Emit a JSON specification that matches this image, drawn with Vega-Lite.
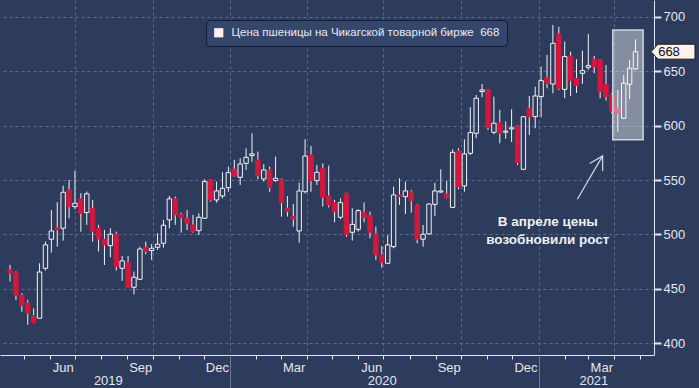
{
  "$schema": "https://vega.github.io/schema/vega-lite/v6.json",
  "width": 654,
  "height": 355,
  "autosize": "none",
  "padding": {"left": 0, "top": 0, "right": 45, "bottom": 33},
  "background": "#2d3b5c",
  "config": {"view": {"stroke": null}, "font": "Liberation Sans"},
  "datasets": {
    "candles": [
      {"d":"2019-04-15","o":467.4,"h":472,"l":456.7,"c":464.3},
      {"d":"2019-04-22","o":464.9,"h":466,"l":439.8,"c":444.2},
      {"d":"2019-04-29","o":444.2,"h":446,"l":429,"c":434.6},
      {"d":"2019-05-06","o":437,"h":440,"l":417,"c":427.6},
      {"d":"2019-05-13","o":425.4,"h":432,"l":418.4,"c":419},
      {"d":"2019-05-20","o":423,"h":473.5,"l":423,"c":465.5},
      {"d":"2019-05-27","o":468.9,"h":493.4,"l":466.8,"c":490.4},
      {"d":"2019-06-03","o":495.6,"h":522.5,"l":483.3,"c":503.2},
      {"d":"2019-06-10","o":506,"h":529.6,"l":488.8,"c":504.2},
      {"d":"2019-06-17","o":505.7,"h":544.9,"l":494.4,"c":538.8},
      {"d":"2019-06-24","o":540.9,"h":550.1,"l":514.9,"c":525.6},
      {"d":"2019-07-01","o":525.6,"h":558.4,"l":523.2,"c":528.7},
      {"d":"2019-07-08","o":532.7,"h":537.9,"l":502.6,"c":519.5},
      {"d":"2019-07-15","o":520.1,"h":539.4,"l":508.8,"c":537.3},
      {"d":"2019-07-22","o":524.1,"h":531.7,"l":493.4,"c":502.6},
      {"d":"2019-07-29","o":505.7,"h":508.8,"l":484.3,"c":495.9},
      {"d":"2019-08-05","o":495.6,"h":504.2,"l":472,"c":490.4},
      {"d":"2019-08-12","o":489.8,"h":505.7,"l":479,"c":500.2},
      {"d":"2019-08-19","o":500.2,"h":502.6,"l":466.8,"c":470.5},
      {"d":"2019-08-26","o":468.9,"h":480.3,"l":457.3,"c":475.7},
      {"d":"2019-09-02","o":474.4,"h":480.3,"l":451,"c":451.2},
      {"d":"2019-09-09","o":451.5,"h":465.9,"l":445,"c":460.7},
      {"d":"2019-09-16","o":458.8,"h":488.8,"l":458.5,"c":486.7},
      {"d":"2019-09-23","o":488.2,"h":493.4,"l":481.8,"c":484.3},
      {"d":"2019-09-30","o":485.2,"h":491.3,"l":476.6,"c":487.3},
      {"d":"2019-10-07","o":488.2,"h":501.1,"l":485.8,"c":491},
      {"d":"2019-10-14","o":491.9,"h":513.4,"l":487.9,"c":508.5},
      {"d":"2019-10-21","o":513.4,"h":535.4,"l":505.7,"c":532.7},
      {"d":"2019-10-28","o":532.7,"h":534.8,"l":508.8,"c":518},
      {"d":"2019-11-04","o":518.5,"h":520.1,"l":501.7,"c":515.5},
      {"d":"2019-11-11","o":514.9,"h":522.5,"l":504.1,"c":510.3},
      {"d":"2019-11-18","o":508.7,"h":518,"l":501.7,"c":502.6},
      {"d":"2019-11-25","o":503.5,"h":519.5,"l":499.5,"c":515.8},
      {"d":"2019-12-02","o":514.9,"h":550.7,"l":514.5,"c":548.6},
      {"d":"2019-12-09","o":550.1,"h":550.7,"l":530.1,"c":531.7},
      {"d":"2019-12-16","o":531.7,"h":548.6,"l":529.2,"c":540},
      {"d":"2019-12-23","o":535.4,"h":557.2,"l":533.2,"c":542.4},
      {"d":"2019-12-30","o":543,"h":562.4,"l":539.3,"c":556.8},
      {"d":"2020-01-06","o":559.9,"h":568.5,"l":553.2,"c":553.8},
      {"d":"2020-01-13","o":552.5,"h":570,"l":545.5,"c":564.8},
      {"d":"2020-01-20","o":565.4,"h":579.2,"l":559.3,"c":570.9},
      {"d":"2020-01-27","o":572.5,"h":593,"l":566.9,"c":574.1},
      {"d":"2020-02-03","o":568.5,"h":576.2,"l":550.7,"c":554.1},
      {"d":"2020-02-10","o":551,"h":564.5,"l":548.6,"c":559.3},
      {"d":"2020-02-17","o":559.3,"h":562.4,"l":539.3,"c":543},
      {"d":"2020-02-24","o":549.5,"h":571.5,"l":548.6,"c":551.6},
      {"d":"2020-03-02","o":550.7,"h":551.6,"l":516.4,"c":529.2},
      {"d":"2020-03-09","o":524.1,"h":535.4,"l":516.4,"c":521},
      {"d":"2020-03-16","o":516.4,"h":528,"l":507.2,"c":514.3},
      {"d":"2020-03-23","o":503.2,"h":547.6,"l":492.5,"c":540},
      {"d":"2020-03-30","o":539.3,"h":587.5,"l":537.8,"c":572.1},
      {"d":"2020-04-06","o":573.1,"h":581.3,"l":539.3,"c":549.5},
      {"d":"2020-04-13","o":549.5,"h":563.9,"l":545.5,"c":557.2},
      {"d":"2020-04-20","o":560.8,"h":565.4,"l":525.6,"c":534.1},
      {"d":"2020-04-27","o":535.4,"h":563.3,"l":524.9,"c":527.1},
      {"d":"2020-05-04","o":529.2,"h":531.7,"l":511.2,"c":521},
      {"d":"2020-05-11","o":515.8,"h":533.2,"l":513.9,"c":529.2},
      {"d":"2020-05-18","o":537.8,"h":538.4,"l":498,"c":500.2},
      {"d":"2020-05-25","o":502,"h":524,"l":494.3,"c":509.3},
      {"d":"2020-06-01","o":504.7,"h":523.1,"l":502.6,"c":521.9},
      {"d":"2020-06-08","o":520.4,"h":529.5,"l":511.2,"c":515.5},
      {"d":"2020-06-15","o":517.3,"h":521,"l":496.5,"c":502},
      {"d":"2020-06-22","o":500.5,"h":507.2,"l":476.6,"c":481.2},
      {"d":"2020-06-29","o":481.2,"h":489.4,"l":469.5,"c":474.2},
      {"d":"2020-07-06","o":473.5,"h":499.5,"l":473.2,"c":490.4},
      {"d":"2020-07-13","o":488.8,"h":543.9,"l":487.3,"c":536.3},
      {"d":"2020-07-20","o":536.3,"h":551.6,"l":527.1,"c":534.7},
      {"d":"2020-07-27","o":534.7,"h":548.6,"l":518.8,"c":540},
      {"d":"2020-08-03","o":539.3,"h":540.9,"l":520.1,"c":531.1},
      {"d":"2020-08-10","o":527.1,"h":528,"l":491.9,"c":495.6},
      {"d":"2020-08-17","o":495.6,"h":508.7,"l":488.8,"c":500.2},
      {"d":"2020-08-24","o":500.5,"h":528.5,"l":500,"c":528},
      {"d":"2020-08-31","o":527.7,"h":547.6,"l":517,"c":540},
      {"d":"2020-09-07","o":539,"h":559.9,"l":538.4,"c":540},
      {"d":"2020-09-14","o":537.2,"h":549.5,"l":533.2,"c":533.8},
      {"d":"2020-09-21","o":524.9,"h":578.2,"l":524.5,"c":575.5},
      {"d":"2020-09-28","o":576.8,"h":579.2,"l":541.5,"c":543.9},
      {"d":"2020-10-05","o":544.6,"h":587.5,"l":539.3,"c":574},
      {"d":"2020-10-12","o":574.6,"h":616.9,"l":573,"c":593.6},
      {"d":"2020-10-19","o":593,"h":628.2,"l":588.4,"c":625.2},
      {"d":"2020-10-26","o":631.3,"h":638.3,"l":626,"c":632.8},
      {"d":"2020-11-02","o":632.8,"h":633.4,"l":596,"c":598.2},
      {"d":"2020-11-09","o":593.9,"h":626.7,"l":592,"c":602.2},
      {"d":"2020-11-16","o":602.8,"h":614.4,"l":583.8,"c":592.9},
      {"d":"2020-11-23","o":594,"h":604,"l":588,"c":595},
      {"d":"2020-11-30","o":597,"h":615,"l":585,"c":598},
      {"d":"2020-12-07","o":599.7,"h":600.5,"l":563.9,"c":566},
      {"d":"2020-12-14","o":559.9,"h":608.9,"l":559.3,"c":608.2},
      {"d":"2020-12-21","o":616,"h":627.3,"l":591.4,"c":608.3},
      {"d":"2020-12-28","o":608.3,"h":635.8,"l":597.6,"c":627.3},
      {"d":"2021-01-04","o":626.7,"h":654.3,"l":607.7,"c":641.4},
      {"d":"2021-01-11","o":644.1,"h":665,"l":634.3,"c":638.9},
      {"d":"2021-01-18","o":638.3,"h":692.6,"l":629.8,"c":675.7},
      {"d":"2021-01-25","o":684.3,"h":691,"l":632.8,"c":634.3},
      {"d":"2021-02-01","o":633.4,"h":677.3,"l":625.2,"c":663.5},
      {"d":"2021-02-08","o":664.1,"h":668,"l":627.3,"c":641.4},
      {"d":"2021-02-15","o":643.5,"h":661,"l":630,"c":636.8},
      {"d":"2021-02-22","o":648.1,"h":668.9,"l":638.3,"c":650.6},
      {"d":"2021-03-01","o":653.6,"h":684.3,"l":651.2,"c":655.2},
      {"d":"2021-03-08","o":661,"h":664.1,"l":648.1,"c":654.3},
      {"d":"2021-03-15","o":660.4,"h":661,"l":625.2,"c":631.3},
      {"d":"2021-03-22","o":638,"h":655.8,"l":623,"c":626.7},
      {"d":"2021-03-29","o":628.2,"h":630,"l":611,"c":612.9},
      {"d":"2021-04-05","o":616,"h":632.8,"l":594.5,"c":611.4},
      {"d":"2021-04-12","o":606.8,"h":646.6,"l":606.5,"c":639},
      {"d":"2021-04-19","o":638,"h":660.4,"l":624.3,"c":652.8},
      {"d":"2021-04-26","o":652.1,"h":679.4,"l":651.2,"c":668}
    ],
    "arrow": [{"d":"2021-02-16","v":532.4},{"d":"2021-03-18","v":572.2}],
    "tip": [{"d":"2021-03-18","v":572.2}],
    "note": [{"d":"2021-01-12","v":511,"t":"В апреле цены\nвозобновили рост"}],
    "box": [{"d":"2021-03-30","d2":"2021-05-05","v":587,"v2":688}],
    "last": [{"d":"2021-05-12","v":668,"t":"668"}]
  },
  "layer": [
    {
      "data": {"name": "candles"},
      "mark": {"type": "rule", "color": "#f2f3f6", "strokeWidth": 1},
      "encoding": {
        "x": {
          "field": "d", "type": "temporal",
          "scale": {"type": "utc", "domain": [{"year":2019,"month":4,"date":9,"utc":true},{"year":2021,"month":5,"date":12,"utc":true}]},
          "axis": {
            "orient": "bottom", "title": null,
            "values": [
              {"year":2019,"month":5,"date":1,"utc":true},{"year":2019,"month":6,"date":1,"utc":true},{"year":2019,"month":7,"date":1,"utc":true},
              {"year":2019,"month":8,"date":1,"utc":true},{"year":2019,"month":9,"date":1,"utc":true},{"year":2019,"month":10,"date":1,"utc":true},
              {"year":2019,"month":11,"date":1,"utc":true},{"year":2019,"month":12,"date":1,"utc":true},{"year":2020,"month":1,"date":1,"utc":true},
              {"year":2020,"month":2,"date":1,"utc":true},{"year":2020,"month":3,"date":1,"utc":true},{"year":2020,"month":4,"date":1,"utc":true},
              {"year":2020,"month":5,"date":1,"utc":true},{"year":2020,"month":6,"date":1,"utc":true},{"year":2020,"month":7,"date":1,"utc":true},
              {"year":2020,"month":8,"date":1,"utc":true},{"year":2020,"month":9,"date":1,"utc":true},{"year":2020,"month":10,"date":1,"utc":true},
              {"year":2020,"month":11,"date":1,"utc":true},{"year":2020,"month":12,"date":1,"utc":true},{"year":2021,"month":1,"date":1,"utc":true},
              {"year":2021,"month":2,"date":1,"utc":true},{"year":2021,"month":3,"date":1,"utc":true},{"year":2021,"month":4,"date":1,"utc":true},
              {"year":2021,"month":5,"date":1,"utc":true}
            ],
            "labelExpr": "utcmonth(datum.value) % 3 == 2 ? utcFormat(datum.value, '%b') : ''",
            "labelOffset": 13, "labelPadding": 2, "labelFontSize": 13, "labelColor": "#e4e7ee",
            "labelOverlap": false, "labelFlush": false, "labelBound": false,
            "tickSize": 4, "tickColor": "#e4e7ee", "domainColor": "#e4e7ee", "domainWidth": 1,
            "grid": true, "gridColor": "#5b6a8d", "gridDash": [3, 3],
            "gridOpacity": {"condition": {"test": "utcmonth(datum.value) % 3 == 0", "value": 1}, "value": 0}
          }
        },
        "y": {
          "field": "h", "type": "quantitative",
          "scale": {"domain": [389.2, 715.5], "zero": false, "nice": false},
          "axis": {
            "orient": "right", "title": null,
            "values": [400,425,450,475,500,525,550,575,600,625,650,675,700],
            "labelExpr": "datum.value % 50 == 0 ? datum.label : ''",
            "tickSize": {"condition": {"test": "datum.value % 50 == 0", "value": 7}, "value": 4},
            "tickWidth": {"condition": {"test": "datum.value % 50 == 0", "value": 2}, "value": 1},
            "tickColor": "#e4e7ee", "domainColor": "#e4e7ee", "labelColor": "#e4e7ee",
            "labelFontSize": 13, "labelPadding": 2, "labelOverlap": false,
            "grid": true, "gridColor": "#5b6a8d", "gridDash": [3, 3],
            "gridOpacity": {"condition": {"test": "datum.value % 50 == 0", "value": 1}, "value": 0}
          }
        },
        "y2": {"field": "l"}
      }
    },
    {
      "data": {"name": "candles"},
      "mark": {"type": "bar", "width": 4.4, "strokeWidth": 1},
      "encoding": {
        "x": {
          "field": "d", "type": "temporal",
          "scale": {"type": "utc", "domain": [{"year":2019,"month":4,"date":9,"utc":true},{"year":2021,"month":5,"date":12,"utc":true}]},
          "axis": {
            "orient": "bottom", "title": null, "labels": false, "domain": false, "grid": false,
            "values": [{"year":2020,"month":1,"date":1,"utc":true},{"year":2021,"month":1,"date":1,"utc":true}],
            "tickSize": 33, "tickColor": "#6c7795"
          }
        },
        "y": {"field": "o", "type": "quantitative"},
        "y2": {"field": "c"},
        "fill": {"condition": {"test": "datum.c < datum.o", "value": "#d3173d"}, "value": "#2d3b5c"},
        "stroke": {"condition": {"test": "datum.c < datum.o", "value": "#d3173d"}, "value": "#f2f3f6"}
      }
    },
    {
      "data": {"name": "box"},
      "mark": {"type": "rect", "fill": "#ffffff", "fillOpacity": 0.42, "stroke": "#d0d4de", "strokeWidth": 1.5},
      "encoding": {
        "x": {"field": "d", "type": "temporal", "axis": null},
        "x2": {"field": "d2"},
        "y": {"field": "v", "type": "quantitative"},
        "y2": {"field": "v2"}
      }
    },
    {
      "data": {"name": "arrow"},
      "mark": {"type": "line", "color": "#d5d9e3", "strokeWidth": 1.2},
      "encoding": {
        "x": {
          "field": "d", "type": "temporal",
          "axis": {
            "orient": "bottom", "title": null, "ticks": false, "tickSize": 0, "domain": false, "grid": false,
            "values": [{"year":2019,"month":8,"date":9,"utc":true},{"year":2020,"month":6,"date":29,"utc":true},{"year":2021,"month":3,"date":7,"utc":true}],
            "labelExpr": "utcFormat(datum.value, '%Y')",
            "labelPadding": 19, "labelFontSize": 13, "labelColor": "#e4e7ee", "labelOverlap": false, "labelFlush": false
          }
        },
        "y": {"field": "v", "type": "quantitative"}
      }
    },
    {
      "data": {"name": "tip"},
      "mark": {"type": "point", "shape": "M-0.5,0.866L0,0L0.5,0.866", "size": 900, "angle": 30, "filled": false, "color": "#d5d9e3", "strokeWidth": 1.2, "opacity": 1},
      "encoding": {
        "x": {"field": "d", "type": "temporal", "axis": null},
        "y": {"field": "v", "type": "quantitative"}
      }
    },
    {
      "data": {"name": "note"},
      "mark": {"type": "text", "lineBreak": "\n", "fontSize": 13.5, "fontWeight": "bold", "color": "#eef0f5", "align": "center", "baseline": "middle", "lineHeight": 18},
      "encoding": {
        "x": {"field": "d", "type": "temporal", "axis": null},
        "y": {"field": "v", "type": "quantitative"},
        "text": {"field": "t"}
      }
    },
    {
      "data": {"name": "last"},
      "mark": {"type": "point", "shape": "M-1,0L-0.68,-0.34L1,-0.34L1,0.34L-0.68,0.34Z", "size": 1936, "filled": true, "opacity": 1, "stroke": "#1a1a1a", "strokeWidth": 1, "xOffset": 24},
      "encoding": {
        "x": {"field": "d", "type": "temporal", "axis": null},
        "y": {"field": "v", "type": "quantitative"},
        "color": {
          "datum": "Цена пшеницы на Чикагской товарной бирже\u00a0 668", "type": "nominal",
          "scale": {"range": ["#fdf1ea"]},
          "legend": {
            "orient": "none", "legendX": 206, "legendY": 20, "title": null,
            "symbolType": "square", "symbolSize": 85, "symbolStrokeWidth": 0,
            "labelFontSize": 11.5, "labelColor": "#e8ebf2", "labelOffset": 7, "labelLimit": 400,
            "fillColor": "#34466b", "strokeColor": "#141b2e", "cornerRadius": 4, "padding": 7
          }
        }
      }
    },
    {
      "data": {"name": "last"},
      "mark": {"type": "text", "dx": 20, "fontSize": 13, "color": "#111111", "align": "center", "baseline": "middle"},
      "encoding": {
        "x": {"field": "d", "type": "temporal", "axis": null},
        "y": {"field": "v", "type": "quantitative"},
        "text": {"field": "t"}
      }
    }
  ],
  "resolve": {"axis": {"x": "independent"}}
}
